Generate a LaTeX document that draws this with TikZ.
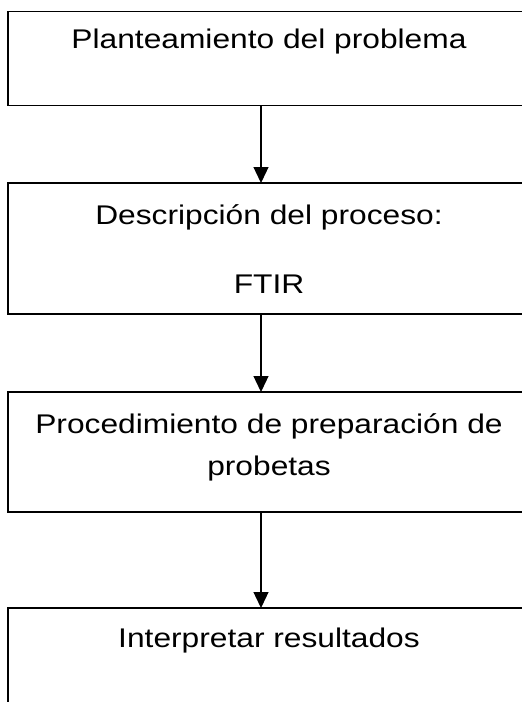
\documentclass[tikz,border=0pt]{standalone}
\usepackage{fontspec}
\setmainfont{Liberation Sans}[FakeStretch=1.175]
\usepackage{tikz}
\usetikzlibrary{positioning, arrows.meta}
\tikzset{
    box/.style={draw, rectangle, line width=1.3pt, minimum width=522pt, outer sep=0pt, inner sep=0pt},
    lbl/.style={font=\fontsize{27}{42}\selectfont, inner sep=0pt, outer sep=0pt},
    arr/.style={line width=1.3pt, -{Triangle[length=16pt, width=15pt]}},
}
\begin{document}
\begin{tikzpicture}[x=1pt, y=1pt]
    \useasboundingbox (0,0) rectangle (522,-702);
    \clip (0,0) rectangle (522,-702);

    \node[box, minimum height=94pt] (plant) at (269,-58.5) {};
    \node[box, minimum height=131pt, below=77.5pt of plant] (desc) {};
    \node[box, minimum height=120pt, below=78pt of desc] (proc) {};
    \node[box, minimum height=150pt, below=96pt of proc] (interp) {};

    \node[lbl, below=36.5pt of plant.north, anchor=base] (tplant) {Planteamiento del problema};
    \node[lbl, below=41pt of desc.north, anchor=base] (tdesc) {Descripción del proceso:};
    \node[lbl, below=110pt of desc.north, anchor=base] (tftir) {FTIR};
    \node[lbl, below=41pt of proc.north, anchor=base] (tproc) {Procedimiento de preparación de};
    \node[lbl, below=83pt of proc.north, anchor=base] (tprob) {probetas};
    \node[lbl, below=39pt of interp.north, anchor=base] (tinterp) {Interpretar resultados};

    \draw[arr] ([xshift=-8pt]plant.south) -- ([xshift=-8pt]desc.north);
    \draw[arr] ([xshift=-8pt]desc.south) -- ([xshift=-8pt]proc.north);
    \draw[arr] ([xshift=-8pt]proc.south) -- ([xshift=-8pt]interp.north);
\end{tikzpicture}
\end{document}
